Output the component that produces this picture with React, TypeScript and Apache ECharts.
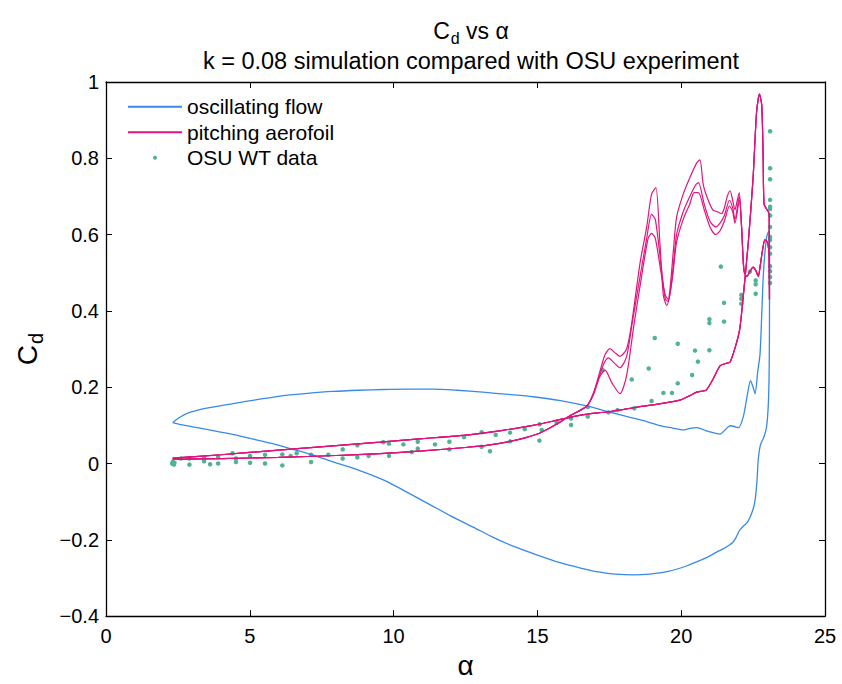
import React, { useEffect, useRef } from 'react';
import * as echarts from 'echarts';

// Drag coefficient against angle of attack, [alpha (deg), Cd] pairs.

// Oscillating-flow simulation: one closed hysteresis loop.
const oscillatingFlow: [number, number][] = [
  [2.32, 0.107], [2.5, 0.118], [2.8, 0.131], [3.5, 0.145], [4.42, 0.157], [5.3, 0.168],
  [6.17, 0.178], [7.0, 0.184], [7.9, 0.189], [8.8, 0.192], [9.64, 0.194], [10.5, 0.195],
  [11.37, 0.195], [12.2, 0.192], [13.1, 0.187], [14.0, 0.181], [14.85, 0.175], [15.8, 0.165],
  [16.83, 0.149], [17.5, 0.135], [18.22, 0.121], [18.8, 0.11], [19.26, 0.099], [19.7, 0.093],
  [20.07, 0.088], [20.3, 0.092], [20.54, 0.094], [20.9, 0.085], [21.35, 0.077], [21.55, 0.09],
  [21.7, 0.099], [21.85, 0.097], [21.99, 0.094], [22.16, 0.123], [22.3, 0.18], [22.41, 0.217],
  [22.5, 0.2], [22.57, 0.183], [22.66, 0.24], [22.74, 0.286], [22.8, 0.389], [22.86, 0.5],
  [22.97, 0.594], [23.05, 0.61], [23.07, 0.55], [23.07, 0.4], [23.06, 0.25], [23.03, 0.157],
  [22.97, 0.097], [22.88, 0.07], [22.76, 0.05], [22.68, 0.011], [22.64, -0.04], [22.58, -0.09],
  [22.5, -0.12], [22.32, -0.152], [22.15, -0.165], [22.03, -0.175], [21.9, -0.195],
  [21.79, -0.207], [21.5, -0.222], [21.31, -0.229], [21.0, -0.242], [20.72, -0.252],
  [20.2, -0.268], [19.54, -0.283], [18.9, -0.29], [18.36, -0.292], [17.7, -0.29],
  [17.18, -0.285], [16.5, -0.274], [15.79, -0.26], [15.0, -0.24], [14.2, -0.218],
  [13.5, -0.195], [12.8, -0.168], [12.0, -0.138], [11.2, -0.105], [10.46, -0.075],
  [9.7, -0.045], [8.8, -0.018], [7.9, 0.004], [7.2, 0.022], [6.51, 0.037], [5.8, 0.052],
  [5.0, 0.066], [4.37, 0.077], [3.27, 0.093], [2.6, 0.102], [2.32, 0.107],
];

// Pitching aerofoil: upstroke, common to every cycle.
const pitchUpstroke: [number, number][] = [
  [2.32, 0.014], [4.0, 0.023], [6.0, 0.035], [8.0, 0.047], [9.53, 0.056], [11.0, 0.065],
  [12.6, 0.075], [13.8, 0.087], [14.85, 0.1], [15.6, 0.112], [16.24, 0.123], [16.8, 0.13],
  [17.4, 0.135], [18.0, 0.142], [18.57, 0.149], [19.3, 0.157], [19.96, 0.166], [20.3, 0.178],
  [20.54, 0.187], [20.75, 0.19], [20.88, 0.193], [21.1, 0.22], [21.35, 0.256], [21.55, 0.262],
  [21.7, 0.266], [21.9, 0.31], [22.04, 0.355], [22.16, 0.44], [22.33, 0.577], [22.5, 0.749],
  [22.62, 0.92], [22.72, 0.968], [22.8, 0.94], [22.85, 0.8], [22.88, 0.68], [22.97, 0.667],
  [23.06, 0.654], [23.07, 0.43],
];

// Start of the downstroke, after the stall peak.
const pitchStallTop: [number, number][] = [
  [23.05, 0.55], [23.0, 0.58], [22.91, 0.586], [22.83, 0.56], [22.75, 0.52], [22.68, 0.49],
  [22.6, 0.505], [22.5, 0.515], [22.4, 0.505], [22.28, 0.49], [22.2, 0.5], [22.16, 0.526],
  [22.1, 0.62],
];

// Separated-flow part of the downstroke, one list per cycle.
const pitchCycleA: [number, number][] = [
  [22.02, 0.71], [21.95, 0.69], [21.87, 0.665], [21.79, 0.69], [21.7, 0.715], [21.6, 0.7],
  [21.5, 0.67], [21.4, 0.655], [21.25, 0.66], [21.1, 0.665], [20.94, 0.69], [20.77, 0.73],
  [20.65, 0.796], [20.54, 0.788], [20.3, 0.749], [20.07, 0.706], [19.84, 0.646], [19.73, 0.56],
  [19.6, 0.45], [19.5, 0.414], [19.38, 0.44], [19.26, 0.577], [19.12, 0.723], [18.97, 0.706],
  [18.8, 0.62], [18.57, 0.526], [18.27, 0.363], [18.1, 0.3], [17.87, 0.281], [17.7, 0.29],
  [17.52, 0.301], [17.35, 0.285], [17.15, 0.235], [16.95, 0.185],
];
const pitchCycleB: [number, number][] = [
  [22.02, 0.7], [21.87, 0.64], [21.79, 0.67], [21.68, 0.69], [21.5, 0.65], [21.35, 0.63],
  [21.2, 0.62], [21.0, 0.635], [20.8, 0.68], [20.6, 0.736], [20.5, 0.73], [20.3, 0.7],
  [20.07, 0.66], [19.84, 0.6], [19.7, 0.5], [19.55, 0.425], [19.45, 0.43], [19.3, 0.52],
  [19.1, 0.64], [18.97, 0.653], [18.8, 0.59], [18.57, 0.49], [18.3, 0.37], [18.1, 0.28],
  [17.87, 0.251], [17.65, 0.265], [17.47, 0.277], [17.3, 0.26], [17.1, 0.215], [16.9, 0.175],
];
const pitchCycleC: [number, number][] = [
  [22.02, 0.69], [21.87, 0.63], [21.79, 0.66], [21.68, 0.675], [21.5, 0.635], [21.35, 0.61],
  [21.2, 0.6], [21.0, 0.62], [20.8, 0.665], [20.6, 0.71], [20.45, 0.71], [20.3, 0.68],
  [20.07, 0.64], [19.84, 0.58], [19.7, 0.49], [19.55, 0.43], [19.45, 0.44], [19.3, 0.5],
  [19.1, 0.59], [18.97, 0.603], [18.85, 0.59], [18.6, 0.48], [18.35, 0.36], [18.1, 0.23],
  [17.87, 0.183], [17.6, 0.21], [17.35, 0.245], [17.15, 0.225], [16.95, 0.18],
];

// Reattachment and the rest of the downstroke, common to every cycle.
const pitchReattach: [number, number][] = [
  [16.71, 0.15], [16.13, 0.125], [15.6, 0.1], [15.09, 0.08], [14.6, 0.068], [14.05, 0.058],
  [13.3, 0.048], [12.5, 0.042], [11.0, 0.033], [9.53, 0.026], [8.0, 0.021], [6.0, 0.016],
  [4.0, 0.013], [2.32, 0.011],
];

// OSU wind-tunnel measurements.
const osuData: [number, number][] = [
  [2.3, 0.0], [2.32, 0.004], [2.36, -0.003], [2.38, 0.002], [2.6, 0.013], [2.9, 0.013],
  [2.9, -0.003], [3.41, 0.015], [3.41, 0.006], [3.62, -0.002], [3.9, 0.017], [3.9, 0.0],
  [4.4, 0.027], [4.52, 0.013], [4.52, 0.004], [5.01, 0.02], [5.01, 0.002], [5.53, 0.023],
  [5.53, 0.0], [6.13, 0.024], [6.13, -0.005], [6.42, 0.02], [6.63, 0.027], [7.13, 0.023],
  [7.13, 0.004], [7.73, 0.023], [8.23, 0.037], [8.23, 0.013], [8.74, 0.048], [8.74, 0.016],
  [9.13, 0.02], [9.64, 0.056], [9.84, 0.052], [9.84, 0.02], [10.34, 0.05], [10.63, 0.03],
  [10.84, 0.057], [10.84, 0.039], [11.44, 0.05], [11.94, 0.057], [11.94, 0.037], [12.45, 0.069],
  [13.06, 0.082], [13.06, 0.044], [13.35, 0.032], [13.55, 0.075], [14.05, 0.081], [14.05, 0.058],
  [14.56, 0.09], [15.07, 0.103], [15.07, 0.06], [15.15, 0.088], [15.67, 0.107], [16.17, 0.118],
  [16.17, 0.101], [16.75, 0.148], [16.75, 0.123], [17.27, 0.245], [17.47, 0.134], [17.78, 0.14],
  [18.28, 0.22], [18.37, 0.145], [18.87, 0.249], [18.97, 0.164], [19.08, 0.329], [19.38, 0.185],
  [19.68, 0.185], [19.88, 0.314], [19.88, 0.21], [20.38, 0.232], [20.48, 0.296], [20.58, 0.267],
  [20.98, 0.297], [20.98, 0.378], [20.98, 0.368], [21.38, 0.516], [21.49, 0.421], [21.49, 0.372],
  [22.09, 0.442], [22.09, 0.432], [22.09, 0.419], [22.39, 0.503], [22.59, 0.48], [22.59, 0.47],
  [22.59, 0.445], [23.09, 0.871], [23.09, 0.774], [23.09, 0.745], [23.09, 0.691], [23.09, 0.673],
  [23.09, 0.667], [23.09, 0.65], [23.09, 0.62], [23.09, 0.594], [23.09, 0.586], [23.09, 0.567],
  [23.09, 0.55], [23.09, 0.517], [23.09, 0.504], [23.09, 0.489], [23.09, 0.473],
];

const FONT = '"Liberation Sans", Arial, Helvetica, sans-serif';
const BLUE = '#378ae9';
const MAGENTA = '#e0147e';
const TEAL = '#50b394';

const fmtY = (v: number) => {
  const r = Math.round(v * 10) / 10;
  return r < 0 ? '\u2212' + Math.abs(r) : String(r);
};

export default function App() {
  const ref = useRef<HTMLDivElement>(null);

  useEffect(() => {
    if (!ref.current) return;
    const chart = echarts.init(ref.current, null, { renderer: 'svg' });

    const axisLine = { show: true, onZero: false, lineStyle: { color: '#000', width: 1.3 } };
    const tick = { show: true, inside: true, length: 6, lineStyle: { color: '#000', width: 1 } };
    const xBase = { type: 'value' as const, min: 0, max: 25, interval: 5, splitLine: { show: false }, axisLine, axisTick: tick };
    const yBase = { type: 'value' as const, min: -0.4, max: 1, interval: 0.2, splitLine: { show: false }, axisLine, axisTick: tick };

    const cycles = [pitchCycleA, pitchCycleB, pitchCycleC];
    const plain = { fontFamily: FONT, color: '#000', fontWeight: 'normal' as const };

    chart.setOption({
      animation: false,
      backgroundColor: '#fff',
      title: [
        {
          text: '{m|C}{s|d}{m| vs \u03b1}',
          left: 466,
          top: 10,
          textAlign: 'center',
          textStyle: {
            fontWeight: 'normal',
            rich: {
              m: { ...plain, fontSize: 23 },
              s: { ...plain, fontSize: 16, padding: [15, 0, 0, 1] },
            },
          },
        },
        {
          text: 'k = 0.08 simulation compared with OSU experiment',
          left: 466,
          top: 44,
          textAlign: 'center',
          textStyle: { ...plain, fontSize: 23.5 },
        },
      ],
      legend: {
        left: 127,
        top: 94,
        orient: 'vertical',
        padding: 0,
        itemGap: 0,
        itemWidth: 54,
        itemHeight: 4,
        textStyle: { ...plain, fontSize: 21, lineHeight: 25.5 },
        data: [
          { name: 'oscillating flow', itemStyle: { opacity: 0 } },
          { name: 'pitching aerofoil', itemStyle: { opacity: 0 } },
          { name: 'OSU WT data' },
        ],
      },
      grid: { left: 106, top: 82, right: 17, bottom: 58 },
      xAxis: [
        {
          ...xBase,
          position: 'bottom',
          name: '\u03b1',
          nameLocation: 'middle',
          nameGap: 30,
          nameTextStyle: { ...plain, fontSize: 28 },
          axisLabel: { ...plain, fontSize: 20, margin: 10 },
        },
        { ...xBase, position: 'top', axisLabel: { show: false } },
      ],
      yAxis: [
        {
          ...yBase,
          position: 'left',
          name: '{m|C}{s|d}',
          nameLocation: 'middle',
          nameRotate: 90,
          nameGap: 60,
          nameTextStyle: {
            rich: {
              m: { ...plain, fontSize: 28 },
              s: { ...plain, fontSize: 20, padding: [17, 0, 0, 1] },
            },
          },
          axisLabel: { ...plain, fontSize: 20, margin: 7, formatter: fmtY },
        },
        { ...yBase, position: 'right', axisLabel: { show: false } },
      ],
      series: [
        {
          name: 'oscillating flow',
          type: 'line',
          data: oscillatingFlow,
          symbol: 'none',
          smooth: 0.25,
          lineStyle: { color: BLUE, width: 1.3 },
          itemStyle: { color: BLUE },
        },
        ...cycles.map((c) => ({
          name: 'pitching aerofoil',
          type: 'line',
          data: [...pitchUpstroke, ...pitchStallTop, ...c, ...pitchReattach],
          symbol: 'none',
          smooth: 0.25,
          lineStyle: { color: MAGENTA, width: 1.2 },
          itemStyle: { color: MAGENTA },
        })),
        {
          name: 'OSU WT data',
          type: 'scatter',
          data: osuData,
          symbol: 'circle',
          symbolSize: 4.5,
          itemStyle: { color: TEAL, opacity: 1 },
        },
      ],
    });

    return () => chart.dispose();
  }, []);

  return <div ref={ref} style={{ width: 842, height: 684, position: 'absolute', left: 0, top: 0 }} />;
}
